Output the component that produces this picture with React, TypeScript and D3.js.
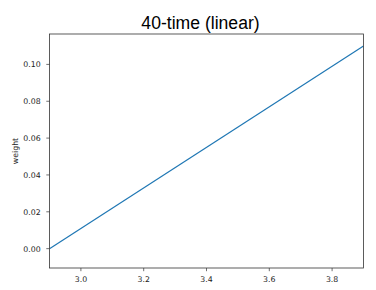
import React from "react";
import * as d3 from "d3";

const timeValues = [2.9, 3.9];
const weightValues = [0, 0.11];
const xTicks = [3.0, 3.2, 3.4, 3.6, 3.8];
const yTicks = [0, 0.02, 0.04, 0.06, 0.08, 0.1];
const titleText = "40-time (linear)";
const yLabel = "weight";

export default function App() {
  const W = 376, H = 290;
  const m = { left: 49.5, top: 34, right: 363.5, bottom: 268 };
  const x = d3.scaleLinear().domain([2.9, 3.9]).range([m.left, m.right]);
  const y = d3.scaleLinear().domain([-0.0105, 0.1165]).range([m.bottom, m.top]);
  const line = d3
    .line<number>()
    .x((_, i) => x(timeValues[i]))
    .y((d) => y(d));
  const tickFont = "'DejaVu Sans', sans-serif";
  const fs = 7.8;
  return (
    <svg
      width={W}
      height={H}
      style={{ position: "absolute", left: 0, top: 0, background: "#fff" }}
    >
      <rect x={0} y={0} width={W} height={H} fill="#fff" />
      <text
        x={(m.left + m.right) / 2 - 6}
        y={28.5}
        textAnchor="middle"
        fontFamily="'Liberation Sans', Arial, sans-serif"
        fontSize={17.6}
        fill="#000"
      >
        {titleText}
      </text>
      <defs>
        <clipPath id="clip">
          <rect x={m.left} y={m.top} width={m.right - m.left} height={m.bottom - m.top} />
        </clipPath>
      </defs>
      <path
        d={line(weightValues) || ""}
        fill="none"
        stroke="#1f77b4"
        strokeWidth={1.2}
        clipPath="url(#clip)"
      />
      <rect
        x={m.left}
        y={m.top}
        width={m.right - m.left}
        height={m.bottom - m.top}
        fill="none"
        stroke="#333"
        strokeWidth={0.8}
      />
      {xTicks.map((t) => (
        <g key={"x" + t}>
          <line x1={x(t)} x2={x(t)} y1={m.bottom} y2={m.bottom + 3.2} stroke="#333" strokeWidth={0.7} />
          <text
            x={x(t)}
            y={m.bottom + 13.5}
            textAnchor="middle"
            fontFamily={tickFont}
            fontSize={fs}
            fill="#222"
          >
            {t.toFixed(1)}
          </text>
        </g>
      ))}
      {yTicks.map((t) => (
        <g key={"y" + t}>
          <line x1={m.left - 3.2} x2={m.left} y1={y(t)} y2={y(t)} stroke="#333" strokeWidth={0.7} />
          <text
            x={m.left - 8.8}
            y={y(t) + 2.9}
            textAnchor="end"
            fontFamily={tickFont}
            fontSize={fs}
            fill="#222"
          >
            {t.toFixed(2)}
          </text>
        </g>
      ))}
      <text
        transform={`translate(17.6, ${(m.top + m.bottom) / 2}) rotate(-90)`}
        textAnchor="middle"
        fontFamily={tickFont}
        fontSize={fs}
        fill="#222"
      >
        {yLabel}
      </text>
    </svg>
  );
}
